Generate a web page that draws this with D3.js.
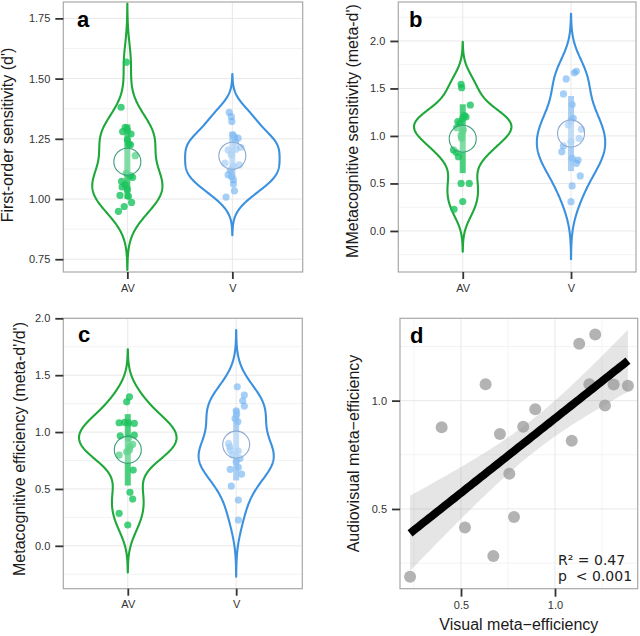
<!DOCTYPE html>
<html><head><meta charset="utf-8">
<script src="https://cdn.jsdelivr.net/npm/d3@7"></script>
<style>
body{margin:0;background:#fff}
svg{display:block}
text{font-family:"Liberation Sans",Arial,Helvetica,sans-serif}
</style>
</head><body>
<svg id="chart" width="640" height="636"></svg>
<script>
// ---------------- DATA ----------------
const categories = ["AV", "V"];

// Panel a: first-order sensitivity (d')
const aAV = [1.568,1.381,1.298,1.287,1.28,1.27,1.246,1.229,1.225,1.18,1.108,1.097,1.09,1.073,1.059,1.05,1.04,1.015,1.011,0.986,0.969,0.949];
const aAVjit = [-0.01,-0.06,-0.02,0,-0.045,0.035,0,0.015,0.03,0.075,-0.01,0.03,0.05,-0.055,-0.02,-0.05,0,-0.07,0.01,0.04,-0.03,-0.085];
const aV = [1.36,1.342,1.322,1.266,1.257,1.253,1.235,1.214,1.207,1.204,1.184,1.149,1.142,1.135,1.12,1.10,1.094,1.08,1.062,1.034,1.008];
const aVjit = [-0.03,-0.01,-0.005,0.005,0.02,0.055,0.03,0.08,0.035,-0.04,-0.01,-0.07,0.065,0.01,-0.02,-0.04,-0.005,0.01,0.01,0.02,-0.06];

// Panel b: metacognitive sensitivity (meta-d')
const bAV = [1.544,1.508,1.326,1.214,1.2,1.186,1.151,1.13,1.087,1.063,1.04,1.003,0.975,0.853,0.828,0.782,0.50,0.50,0.309,0.228];
const bAVjit = [-0.015,-0.01,0.07,0.015,0.03,0,-0.045,-0.025,-0.055,0.005,-0.005,-0.015,-0.01,-0.085,-0.06,-0.04,-0.015,0.06,0,-0.08];
const bV = [1.68,1.665,1.60,1.442,1.33,1.186,1.161,1.116,1.07,0.975,0.94,0.895,0.835,0.765,0.747,0.712,0.579,0.474,0.308];
const bVjit = [0.05,0.03,-0.045,-0.07,0.01,0.02,0,-0.025,0.095,0.075,0,-0.07,-0.085,0.01,0.065,0.05,0.085,0.01,0];

// Panel c: metacognitive efficiency (meta-d'/d')
const cAV = [1.31,1.266,1.085,1.082,1.08,1.076,0.974,0.967,0.945,0.892,0.87,0.842,0.827,0.798,0.666,0.47,0.411,0.286,0.183];
const cAVjit = [0.015,-0.01,-0.03,-0.08,0.005,0.06,0.06,-0.07,0.005,0.045,0.02,0.015,-0.01,-0.08,0.05,0.02,0.045,-0.08,0];
const cV = [1.398,1.325,1.275,1.228,1.187,1.156,1.12,1.091,0.90,0.87,0.842,0.833,0.80,0.769,0.739,0.69,0.672,0.631,0.525,0.402,0.227];
const cVjit = [0.01,0.075,0.06,0.075,0,0.005,-0.01,0.015,-0.07,-0.06,-0.055,0.02,-0.035,0.035,0,0.02,-0.055,0.05,-0.045,0.02,0.02];

// Panel d: visual vs audiovisual meta-efficiency
const dVisual = [0.229,0.397,0.521,0.631,0.672,0.707,0.757,0.782,0.831,0.895,1.089,1.129,1.183,1.214,1.266,1.312,1.388];
const dAudiovisual = [0.187,0.877,0.414,1.076,0.283,0.846,0.663,0.463,0.880,0.960,0.815,1.263,1.076,1.305,0.977,1.074,1.069];
const dStats = ["R\u00B2 = 0.47", "p  < 0.001"];
const dBandT = 1.34; // band multiplier on the standard error of the fit
const violinAdjust = 1.08; // kernel bandwidth adjustment

// Tick values
const aTicks = [0.75, 1.00, 1.25, 1.50, 1.75];
const bTicks = [0.0, 0.5, 1.0, 1.5, 2.0];
const cTicks = [0.0, 0.5, 1.0, 1.5, 2.0];
const dTicksX = [0.5, 1.0];
const dTicksY = [0.5, 1.0];

// ---------------- STYLE ----------------
const GREEN = {line:"#1ea83a", pt:"#12c257", ptOp:0.78, bar:"#1fc35f", barOp:0.8, circ:"#3a9f78"};
const BLUE  = {line:"#3b91df", pt:"#6aaff2", ptOp:0.6,  bar:"#8fc0f2", barOp:0.75, circ:"#8eaad0"};
const groupStyle = [GREEN, BLUE];

const svg = d3.select("#chart");

function bwNrd0(v){
  const s = d3.deviation(v);
  const sorted = v.slice().sort(d3.ascending);
  const iqr = d3.quantileSorted(sorted,0.75) - d3.quantileSorted(sorted,0.25);
  const lo = Math.min(s, iqr/1.34);
  return 0.9*lo*Math.pow(v.length,-0.2);
}
function kde(v){
  const bw = bwNrd0(v)*violinAdjust;
  const lo = d3.min(v)-3*bw, hi = d3.max(v)+3*bw;
  const N = 256, out = [];
  for(let i=0;i<N;i++){
    const t = lo + (hi-lo)*i/(N-1);
    let s = 0;
    for(const x of v){ const z=(t-x)/bw; s += Math.exp(-0.5*z*z); }
    out.push([t, s/(v.length*bw*Math.sqrt(2*Math.PI))]);
  }
  return out;
}

function grid(g, x0,x1,y0,y1, yScale, majors, xLines){
  const step = majors[1]-majors[0];
  const dom = yScale.domain();
  const minors = [];
  for(let v=majors[0]-step/2; v<=dom[1]; v+=step){ if(v>=dom[0]) minors.push(v); }
  g.selectAll(null).data(minors).enter().append("line")
    .attr("x1",x0).attr("x2",x1).attr("y1",d=>yScale(d)).attr("y2",d=>yScale(d))
    .attr("stroke","#f3f3f3").attr("stroke-width",1);
  g.selectAll(null).data(majors).enter().append("line")
    .attr("x1",x0).attr("x2",x1).attr("y1",d=>yScale(d)).attr("y2",d=>yScale(d))
    .attr("stroke","#e8e8e8").attr("stroke-width",1);
  g.selectAll(null).data(xLines).enter().append("line")
    .attr("x1",d=>d).attr("x2",d=>d).attr("y1",y0).attr("y2",y1)
    .attr("stroke","#e8e8e8").attr("stroke-width",1);
}

function styleAxis(ax){
  ax.select(".domain").remove();
  ax.selectAll(".tick line").attr("stroke","#333").attr("stroke-width",1.8);
  ax.selectAll(".tick text").attr("fill","#333").style("font-size","11px")
    .style("font-family",'"Liberation Sans",Arial,sans-serif');
}

function violinPanel(p){
  const g = svg.append("g");
  const x = d3.scaleLinear().domain(p.xdom).range([p.x0,p.x1]);
  const y = d3.scaleLinear().domain(p.ydom).range([p.y1,p.y0]);
  grid(g, p.x0,p.x1,p.y0,p.y1, y, p.ticks, categories.map((c,i)=>x(i+1)));

  const dens = p.groups.map(gr=>kde(gr.vals));
  const maxD = d3.max(dens, d=>d3.max(d, e=>e[1]));
  const k = 0.45/maxD;

  p.groups.forEach((gr,i)=>{
    const st = groupStyle[i], cx = i+1;
    const area = d3.area().curve(d3.curveLinear)
      .y(d=>y(d[0])).x0(d=>x(cx - d[1]*k)).x1(d=>x(cx + d[1]*k));
    g.append("path").attr("d",area(dens[i])).attr("fill","none")
      .attr("stroke",st.line).attr("stroke-width",2.1).attr("stroke-linejoin","round");
    g.selectAll(null).data(gr.vals).enter().append("circle")
      .attr("cx",(d,j)=>x(cx + gr.jit[j])).attr("cy",d=>y(d)).attr("r",3.6)
      .attr("fill",st.pt).attr("fill-opacity",st.ptOp);
    const m = d3.mean(gr.vals), sd = d3.deviation(gr.vals);
    g.append("rect").attr("x",x(cx)-3).attr("width",6)
      .attr("y",y(m+sd)).attr("height",y(m-sd)-y(m+sd))
      .attr("fill",st.bar).attr("fill-opacity",st.barOp);
    g.append("circle").attr("cx",x(cx)).attr("cy",y(m)).attr("r",13.5)
      .attr("fill","#fff").attr("fill-opacity",0.3)
      .attr("stroke",st.circ).attr("stroke-width",1.1);
  });

  g.append("rect").attr("x",p.x0).attr("y",p.y0).attr("width",p.x1-p.x0).attr("height",p.y1-p.y0)
    .attr("fill","none").attr("stroke","#a8a8a8").attr("stroke-width",1.2);

  const ay = g.append("g").attr("transform",`translate(${p.x0},0)`)
    .call(d3.axisLeft(y).tickValues(p.ticks).tickSize(8).tickPadding(5).tickFormat(d3.format(p.fmt)));
  styleAxis(ay);
  const ax = g.append("g").attr("transform",`translate(0,${p.y1})`)
    .call(d3.axisBottom(x).tickValues([1,2]).tickSize(7).tickPadding(5).tickFormat(d=>categories[d-1]));
  styleAxis(ax);

  g.append("text").attr("transform",`translate(${p.titleX},${p.titleY}) rotate(-90)`)
    .attr("text-anchor","middle").attr("fill","#1a1a1a").style("font-size","16px").text(p.title);
  g.append("text").attr("x",p.labX).attr("y",p.labY).attr("fill","#000")
    .style("font-size","22px").style("font-weight","bold").text(p.label);
}

violinPanel({x0:63.3,x1:302.7,y0:2,y1:272, xdom:[0.39,2.67], ydom:[0.697,1.818],
  ticks:aTicks, fmt:".2f", groups:[{vals:aAV,jit:aAVjit},{vals:aV,jit:aVjit}],
  title:"First-order sensitivity (d')", titleX:12.5, titleY:135, label:"a", labX:77, labY:27});
violinPanel({x0:398.3,x1:636,y0:2,y1:272, xdom:[0.405,2.6], ydom:[-0.432,2.41],
  ticks:bTicks, fmt:".1f", groups:[{vals:bAV,jit:bAVjit},{vals:bV,jit:bVjit}],
  title:"MMetacognitive sensitivity (meta-d')", titleX:358, titleY:131, label:"b", labX:409, labY:27});
violinPanel({x0:63.3,x1:302.3,y0:318.3,y1:588.7, xdom:[0.405,2.61], ydom:[-0.377,2.0],
  ticks:cTicks, fmt:".1f", groups:[{vals:cAV,jit:cAVjit},{vals:cV,jit:cVjit}],
  title:"Metacognitive efficiency (meta-d'/d')", titleX:25, titleY:449, label:"c", labX:78, labY:342});

// ---------------- Panel d ----------------
(function(){
  const p = {x0:400,x1:637.7,y0:318.3,y1:588.7};
  const g = svg.append("g");
  const x = d3.scaleLinear().domain([0.1755,1.44]).range([p.x0,p.x1]);
  const y = d3.scaleLinear().domain([0.132,1.38]).range([p.y1,p.y0]);
  const minorsX = [0.25,0.75,1.25], minorsY=[0.25,0.75,1.25];
  minorsX.forEach(v=>g.append("line").attr("x1",x(v)).attr("x2",x(v)).attr("y1",p.y0).attr("y2",p.y1).attr("stroke","#f3f3f3"));
  minorsY.forEach(v=>g.append("line").attr("y1",y(v)).attr("y2",y(v)).attr("x1",p.x0).attr("x2",p.x1).attr("stroke","#f3f3f3"));
  dTicksX.forEach(v=>g.append("line").attr("x1",x(v)).attr("x2",x(v)).attr("y1",p.y0).attr("y2",p.y1).attr("stroke","#e8e8e8"));
  dTicksY.forEach(v=>g.append("line").attr("y1",y(v)).attr("y2",y(v)).attr("x1",p.x0).attr("x2",p.x1).attr("stroke","#e8e8e8"));

  const pts = dVisual.map((v,i)=>[v,dAudiovisual[i]]);
  g.selectAll(null).data(pts).enter().append("circle")
    .attr("cx",d=>x(d[0])).attr("cy",d=>y(d[1])).attr("r",6)
    .attr("fill","#a6a6a6").attr("fill-opacity",0.85);

  const n = pts.length, mx = d3.mean(dVisual), my = d3.mean(dAudiovisual);
  let sxy=0,sxx=0; pts.forEach(([a,b])=>{sxy+=(a-mx)*(b-my); sxx+=(a-mx)*(a-mx);});
  const slope = sxy/sxx, icpt = my - slope*mx;
  let rss=0; pts.forEach(([a,b])=>{const r=b-(icpt+slope*a); rss+=r*r;});
  const s = Math.sqrt(rss/(n-2));
  const xs = d3.range(0,81).map(i=>d3.min(dVisual)+(d3.max(dVisual)-d3.min(dVisual))*i/80);
  const fit = xs.map(v=>{const yh=icpt+slope*v; const se=s*Math.sqrt(1/n+(v-mx)*(v-mx)/sxx); return {x:v,y:yh,lo:yh-dBandT*se,hi:yh+dBandT*se};});
  g.append("path").attr("d",d3.area().x(d=>x(d.x)).y0(d=>y(d.lo)).y1(d=>y(d.hi))(fit))
    .attr("fill","#999").attr("fill-opacity",0.25);
  g.append("path").attr("d",d3.line().x(d=>x(d.x)).y(d=>y(d.y))(fit))
    .attr("fill","none").attr("stroke","#000").attr("stroke-width",8);

  g.append("rect").attr("x",p.x0).attr("y",p.y0).attr("width",p.x1-p.x0).attr("height",p.y1-p.y0)
    .attr("fill","none").attr("stroke","#a8a8a8").attr("stroke-width",1.2);

  const ay = g.append("g").attr("transform",`translate(${p.x0},0)`)
    .call(d3.axisLeft(y).tickValues(dTicksY).tickSize(8).tickPadding(5).tickFormat(d3.format(".1f")));
  styleAxis(ay);
  const ax = g.append("g").attr("transform",`translate(0,${p.y1})`)
    .call(d3.axisBottom(x).tickValues(dTicksX).tickSize(8).tickPadding(5).tickFormat(d3.format(".1f")));
  styleAxis(ax);

  g.append("text").attr("x",(p.x0+p.x1)/2).attr("y",630).attr("text-anchor","middle")
    .attr("fill","#1a1a1a").style("font-size","16px").text("Visual meta\u2212efficiency");
  g.append("text").attr("transform",`translate(359,${(p.y0+p.y1)/2}) rotate(-90)`)
    .attr("text-anchor","middle").attr("fill","#1a1a1a").style("font-size","16px").text("Audiovisual meta\u2212efficiency");
  g.selectAll(null).data(dStats).enter().append("text")
    .attr("x",558).attr("y",(d,i)=>565+i*16).attr("fill","#222")
    .attr("xml:space","preserve").style("white-space","pre")
    .style("font-family",'"DejaVu Sans",sans-serif').style("font-size","14px").text(d=>d);
  g.append("text").attr("x",410).attr("y",343).attr("fill","#000")
    .style("font-size","22px").style("font-weight","bold").text("d");
})();
</script>
</body></html>
